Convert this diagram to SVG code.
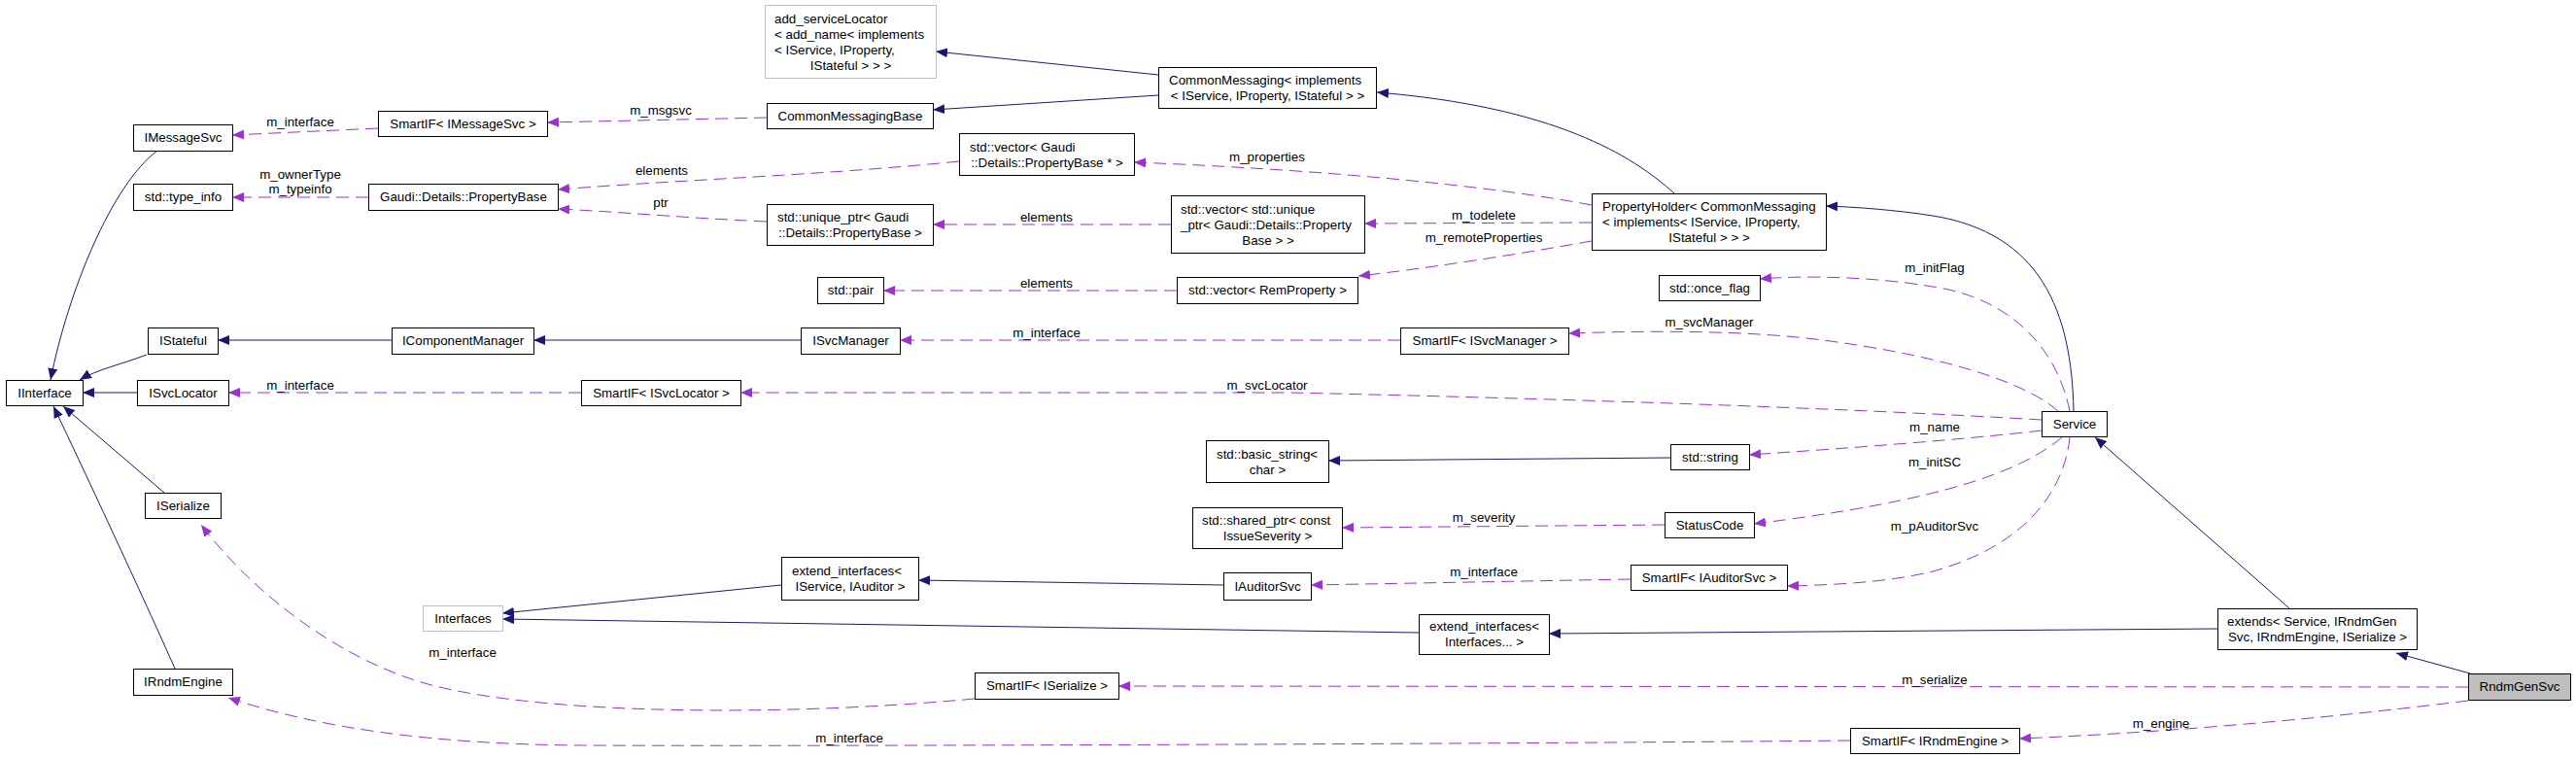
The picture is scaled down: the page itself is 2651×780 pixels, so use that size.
<svg xmlns="http://www.w3.org/2000/svg" width="2651" height="780" viewBox="0 0 2651 780">
<style>
text{font-family:"Liberation Sans",Arial,Helvetica,sans-serif;font-size:13.33px;fill:#000}
.c{text-anchor:middle}
.nd rect{fill:#fff;stroke:#000;stroke-width:1}
.gr rect{stroke:#bfbfbf}
.cur rect{fill:#bfbfbf}
.s{fill:none;stroke:#191970;stroke-width:1;marker-end:url(#ab)}
.d{fill:none;stroke:#9a32cd;stroke-width:1;stroke-dasharray:13 7;marker-end:url(#ap)}
</style>
<defs>
<marker id="ab" viewBox="0 0 12 10" refX="12" refY="5" markerWidth="12" markerHeight="10" markerUnits="userSpaceOnUse" orient="auto"><path d="M0,0 L12,5 L0,10 z" fill="#191970"/></marker>
<marker id="ap" viewBox="0 0 12 10" refX="12" refY="5" markerWidth="12" markerHeight="10" markerUnits="userSpaceOnUse" orient="auto"><path d="M0,0 L12,5 L0,10 z" fill="#9a32cd"/></marker>
</defs>
<rect width="2651" height="780" fill="#fff"/>
<g id="connectors">
<path class="s" d="M162,155 C115,190 70,300 52,391"/>
<path class="s" d="M151,365 C125,375 100,380 82,391"/>
<path class="s" d="M141,404 L85,404"/>
<path class="s" d="M169,507 L65,418"/>
<path class="s" d="M180,688 C150,620 80,470 55,418"/>
<path class="s" d="M403,350 L224,350"/>
<path class="s" d="M824,350 L549,350"/>
<path class="s" d="M1192,77 L963,53"/>
<path class="s" d="M1192,98 L960,113"/>
<path class="s" d="M1723,199 C1680,160 1600,110 1417,95"/>
<path class="s" d="M2134,423 C2132,320 2100,240 1989,222 C1950,216 1910,213 1879,212"/>
<path class="s" d="M2356,626 L2156,450"/>
<path class="s" d="M2542,693 L2466,672"/>
<path class="s" d="M1259,602 L945,597"/>
<path class="s" d="M804,602 L517,631"/>
<path class="s" d="M1460,651 L517,637"/>
<path class="s" d="M2282,647 L1594,652"/>
<path class="s" d="M1719,471 L1367,474"/>
<path class="d" d="M389,132 L239,139"/>
<text class="c" x="309" y="129.5">m_interface</text>
<path class="d" d="M789,121 L563,126"/>
<text class="c" x="680" y="117.5">m_msgsvc</text>
<path class="d" d="M379,203 L239,203"/>
<text class="c" x="309" y="183.5">m_ownerType</text>
<text class="c" x="309" y="198.5">m_typeinfo</text>
<path class="d" d="M987,166 C850,180 700,185 574,195"/>
<text class="c" x="681" y="179.5">elements</text>
<path class="d" d="M789,228 C700,224 640,218 574,215"/>
<text class="c" x="680" y="212.5">ptr</text>
<path class="d" d="M1205,231 L960,231"/>
<text class="c" x="1077" y="227.5">elements</text>
<path class="d" d="M1638,211 C1500,185 1300,172 1167,167"/>
<text class="c" x="1304" y="165.5">m_properties</text>
<path class="d" d="M1638,229 L1404,230"/>
<text class="c" x="1527" y="225.5">m_todelete</text>
<path class="d" d="M1638,248 C1560,262 1470,276 1398,284"/>
<text class="c" x="1527" y="248.5">m_remoteProperties</text>
<path class="d" d="M1211,299 L909,299"/>
<text class="c" x="1077" y="295.5">elements</text>
<path class="d" d="M2130,423 C2115,350 2060,305 1989,295 C1930,285 1860,283 1811,287"/>
<text class="c" x="1991" y="279.5">m_initFlag</text>
<path class="d" d="M2118,423 C2080,390 1990,365 1876,350 C1800,340 1700,340 1614,343"/>
<text class="c" x="1759" y="335.5">m_svcManager</text>
<path class="d" d="M1441,350 L926,350"/>
<text class="c" x="1077" y="346.5">m_interface</text>
<path class="d" d="M2101,432 C1900,420 1600,410 1326,404 L762,404"/>
<text class="c" x="1304" y="400.5">m_svcLocator</text>
<path class="d" d="M598,404 L235,404"/>
<text class="c" x="309" y="400.5">m_interface</text>
<path class="d" d="M2101,443 C2040,450 1950,458 1800,468"/>
<text class="c" x="1991" y="443.5">m_name</text>
<path class="d" d="M2122,450 C2080,485 2000,515 1805,539"/>
<text class="c" x="1991" y="479.5">m_initSC</text>
<path class="d" d="M2130,450 C2125,500 2090,560 1989,588 C1940,600 1880,602 1839,603"/>
<text class="c" x="1991" y="545.5">m_pAuditorSvc</text>
<path class="d" d="M1713,540 L1381,543"/>
<text class="c" x="1527" y="536.5">m_severity</text>
<path class="d" d="M1678,596 L1349,602"/>
<text class="c" x="1527" y="592.5">m_interface</text>
<path class="d" d="M2540,707 L1151,706"/>
<text class="c" x="1991" y="703.5">m_serialize</text>
<path class="d" d="M2540,721 C2420,736 2250,753 2078,760"/>
<text class="c" x="2224" y="748.5">m_engine</text>
<path class="d" d="M1003,719 C800,738 560,735 444,705 C350,680 260,610 207,540"/>
<text class="c" x="476" y="675.5">m_interface</text>
<path class="d" d="M1904,762 C1500,766 800,768 600,767 C450,766 330,750 235,718"/>
<text class="c" x="874" y="763.5">m_interface</text>
</g>
<g id="IInterface" class="nd"><rect x="6.5" y="391.5" width="79" height="26"/><text class="c" x="46" y="408.5">IInterface</text></g>
<g id="IMessageSvc" class="nd"><rect x="137.5" y="128.5" width="102" height="27"/><text class="c" x="188.5" y="146">IMessageSvc</text></g>
<g id="std_type_info" class="nd"><rect x="137.5" y="189.5" width="102" height="27"/><text class="c" x="188.5" y="207">std::type_info</text></g>
<g id="IStateful" class="nd"><rect x="152.5" y="337.5" width="72" height="27"/><text class="c" x="188.5" y="355">IStateful</text></g>
<g id="ISvcLocator" class="nd"><rect x="141.5" y="391.5" width="94" height="26"/><text class="c" x="188.5" y="408.5">ISvcLocator</text></g>
<g id="ISerialize" class="nd"><rect x="149.5" y="507.5" width="78" height="26"/><text class="c" x="188.5" y="524.5">ISerialize</text></g>
<g id="IRndmEngine" class="nd"><rect x="137.5" y="688.5" width="102" height="27"/><text class="c" x="188.5" y="706">IRndmEngine</text></g>
<g id="SmartIF_IMessageSvc" class="nd"><rect x="389.5" y="114.5" width="174" height="26"/><text class="c" x="476.5" y="131.5">SmartIF&lt; IMessageSvc &gt;</text></g>
<g id="PropertyBase" class="nd"><rect x="379.5" y="189.5" width="195" height="27"/><text class="c" x="477" y="207">Gaudi::Details::PropertyBase</text></g>
<g id="IComponentManager" class="nd"><rect x="403.5" y="337.5" width="146" height="27"/><text class="c" x="476.5" y="355">IComponentManager</text></g>
<g id="SmartIF_ISvcLocator" class="nd"><rect x="598.5" y="391.5" width="164" height="26"/><text class="c" x="680.5" y="408.5">SmartIF&lt; ISvcLocator &gt;</text></g>
<g id="Interfaces" class="nd gr"><rect x="435.5" y="623.5" width="82" height="26"/><text class="c" x="476.5" y="640.5">Interfaces</text></g>
<g id="add_serviceLocator" class="nd gr"><rect x="787.5" y="5.5" width="176" height="75"/><text x="797" y="24">add_serviceLocator</text><text x="797" y="40">&lt; add_name&lt; implements</text><text x="797" y="56">&lt; IService, IProperty,</text><text class="c" x="875.5" y="72">IStateful &gt; &gt; &gt;</text></g>
<g id="CommonMessagingBase" class="nd"><rect x="789.5" y="106.5" width="171" height="26"/><text class="c" x="875" y="123.5">CommonMessagingBase</text></g>
<g id="unique_ptr_PropertyBase" class="nd"><rect x="789.5" y="210.5" width="171" height="42"/><text x="800" y="227.5">std::unique_ptr&lt; Gaudi</text><text class="c" x="875" y="243.5">::Details::PropertyBase &gt;</text></g>
<g id="std_pair" class="nd"><rect x="841.5" y="285.5" width="68" height="27"/><text class="c" x="875.5" y="303">std::pair</text></g>
<g id="ISvcManager" class="nd"><rect x="824.5" y="337.5" width="102" height="27"/><text class="c" x="875.5" y="355">ISvcManager</text></g>
<g id="extend_interfaces_IService_IAuditor" class="nd"><rect x="804.5" y="573.5" width="141" height="44"/><text x="815" y="592">extend_interfaces&lt;</text><text class="c" x="875" y="608">IService, IAuditor &gt;</text></g>
<g id="SmartIF_ISerialize" class="nd"><rect x="1003.5" y="692.5" width="148" height="27"/><text class="c" x="1077.5" y="710">SmartIF&lt; ISerialize &gt;</text></g>
<g id="vector_PropertyBase_ptr" class="nd"><rect x="987.5" y="137.5" width="180" height="43"/><text x="998" y="155.5">std::vector&lt; Gaudi</text><text class="c" x="1077.5" y="171.5">::Details::PropertyBase * &gt;</text></g>
<g id="CommonMessaging" class="nd"><rect x="1192.5" y="69.5" width="224" height="42"/><text x="1203" y="86.5">CommonMessaging&lt; implements</text><text class="c" x="1304.5" y="102.5">&lt; IService, IProperty, IStateful &gt; &gt;</text></g>
<g id="vector_unique_ptr" class="nd"><rect x="1205.5" y="201.5" width="199" height="59"/><text x="1215" y="219.5">std::vector&lt; std::unique</text><text x="1215" y="235.5">_ptr&lt; Gaudi::Details::Property</text><text class="c" x="1305" y="251.5">Base &gt; &gt;</text></g>
<g id="vector_RemProperty" class="nd"><rect x="1211.5" y="285.5" width="186" height="27"/><text class="c" x="1304.5" y="303">std::vector&lt; RemProperty &gt;</text></g>
<g id="basic_string" class="nd"><rect x="1241.5" y="453.5" width="126" height="43"/><text x="1252" y="471.5">std::basic_string&lt;</text><text class="c" x="1304.5" y="487.5">char &gt;</text></g>
<g id="shared_ptr_IssueSeverity" class="nd"><rect x="1227.5" y="522.5" width="154" height="42"/><text x="1237" y="540">std::shared_ptr&lt; const</text><text class="c" x="1304.5" y="556">IssueSeverity &gt;</text></g>
<g id="IAuditorSvc" class="nd"><rect x="1259.5" y="589.5" width="90" height="28"/><text class="c" x="1304.5" y="608">IAuditorSvc</text></g>
<g id="SmartIF_ISvcManager" class="nd"><rect x="1441.5" y="337.5" width="173" height="27"/><text class="c" x="1528" y="355">SmartIF&lt; ISvcManager &gt;</text></g>
<g id="extend_interfaces_Interfaces" class="nd"><rect x="1460.5" y="632.5" width="134" height="41"/><text x="1471" y="649">extend_interfaces&lt;</text><text class="c" x="1527.5" y="665">Interfaces... &gt;</text></g>
<g id="PropertyHolder" class="nd"><rect x="1638.5" y="199.5" width="241" height="58"/><text x="1649" y="216.5">PropertyHolder&lt; CommonMessaging</text><text x="1649" y="232.5">&lt; implements&lt; IService, IProperty,</text><text class="c" x="1759" y="248.5">IStateful &gt; &gt; &gt;</text></g>
<g id="std_once_flag" class="nd"><rect x="1707.5" y="283.5" width="104" height="26"/><text class="c" x="1759.5" y="300.5">std::once_flag</text></g>
<g id="std_string" class="nd"><rect x="1719.5" y="457.5" width="81" height="26"/><text class="c" x="1760" y="474.5">std::string</text></g>
<g id="StatusCode" class="nd"><rect x="1713.5" y="527.5" width="92" height="26"/><text class="c" x="1759.5" y="544.5">StatusCode</text></g>
<g id="SmartIF_IAuditorSvc" class="nd"><rect x="1678.5" y="581.5" width="161" height="26"/><text class="c" x="1759" y="598.5">SmartIF&lt; IAuditorSvc &gt;</text></g>
<g id="SmartIF_IRndmEngine" class="nd"><rect x="1904.5" y="749.5" width="174" height="26"/><text class="c" x="1991.5" y="766.5">SmartIF&lt; IRndmEngine &gt;</text></g>
<g id="Service" class="nd"><rect x="2101.5" y="423.5" width="67" height="26"/><text class="c" x="2135" y="440.5">Service</text></g>
<g id="extends" class="nd"><rect x="2282.5" y="626.5" width="205" height="42"/><text x="2292" y="643.5">extends&lt; Service, IRndmGen</text><text class="c" x="2385" y="659.5">Svc, IRndmEngine, ISerialize &gt;</text></g>
<g id="RndmGenSvc" class="nd cur"><rect x="2540.5" y="693.5" width="105" height="27"/><text class="c" x="2593" y="711">RndmGenSvc</text></g>
</svg>
